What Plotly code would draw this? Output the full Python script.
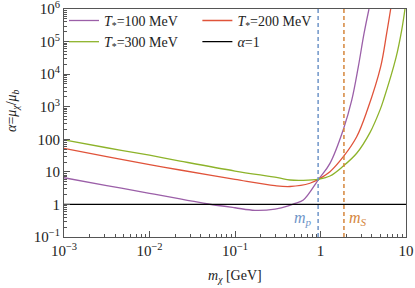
import plotly.graph_objects as go

# Data (x = m_chi in GeV, y = alpha)
x_t100 = [0.001, 0.00316, 0.01, 0.0228, 0.0316, 0.0488, 0.1, 0.171, 0.294, 0.42, 0.504, 0.63, 0.955, 1.29, 1.85, 2.32, 2.77, 3.23, 3.69]
y_t100 = [6.6, 3.8, 2.19, 1.47, 1.26, 1.03, 0.79, 0.66, 0.72, 0.90, 1.08, 1.37, 6.0, 18.2, 200, 1585, 17000, 178000, 1.0e6]

x_t200 = [0.001, 0.00316, 0.01, 0.0228, 0.1, 0.294, 0.44, 0.753, 0.955, 1.29, 1.85, 2.65, 3.53, 5.06, 5.94, 6.62]
y_t200 = [52.5, 29.5, 16.6, 11.4, 5.89, 3.76, 3.55, 4.47, 6.0, 10.1, 29.2, 120, 794, 17000, 178000, 1.0e6]

x_t300 = [0.001, 0.00316, 0.01, 0.0228, 0.1, 0.316, 0.44, 0.631, 0.955, 1.29, 1.85, 2.65, 3.79, 4.97, 5.43, 7.64, 8.91, 9.73]
y_t300 = [95.5, 55, 32.4, 21.5, 10.6, 6.6, 5.62, 5.5, 6.0, 7.46, 15.1, 37.2, 160, 800, 1550, 32000, 224000, 1.0e6]

x_range = [0.001, 10]
alpha_one = [1, 1]

m_p = 0.938
m_S = 1.88
v_range = [0.1, 1.0e6]

x_tickvals = [0.001, 0.01, 0.1, 1, 10]
x_ticktext = ["10<sup>\u22123</sup>", "10<sup>\u22122</sup>", "10<sup>\u22121</sup>", "1", "10"]
y_tickvals = [0.1, 1, 10, 100, 1e3, 1e4, 1e5, 1e6]
y_ticktext = ["10<sup>\u22121</sup>", "1", "10", "100", "10<sup>3</sup>", "10<sup>4</sup>", "10<sup>5</sup>", "10<sup>6</sup>"]

FONT = "Liberation Serif"
C_PURPLE = "#9b5fa8"
C_RED = "#e0533a"
C_GREEN = "#8db32a"
C_BLUE = "#6f95c8"
C_ORANGE = "#d5863c"

fig = go.Figure()
fig.add_trace(go.Scatter(x=x_t100, y=y_t100, mode="lines", line=dict(color=C_PURPLE, width=1.3, shape="spline"),
                         name="<i>T</i><sub>*</sub>=100 MeV", legend="legend"))
fig.add_trace(go.Scatter(x=x_t200, y=y_t200, mode="lines", line=dict(color=C_RED, width=1.3, shape="spline"),
                         name="<i>T</i><sub>*</sub>=200 MeV", legend="legend2"))
fig.add_trace(go.Scatter(x=x_t300, y=y_t300, mode="lines", line=dict(color=C_GREEN, width=1.3, shape="spline"),
                         name="<i>T</i><sub>*</sub>=300 MeV", legend="legend"))
fig.add_trace(go.Scatter(x=x_range, y=alpha_one, mode="lines", line=dict(color="black", width=1.3),
                         name="<i>\u03b1</i>=1", legend="legend2"))
fig.add_trace(go.Scatter(x=[m_p, m_p], y=v_range, mode="lines", line=dict(color=C_BLUE, width=1.5, dash="4px,3px"),
                         showlegend=False))
fig.add_trace(go.Scatter(x=[m_S, m_S], y=v_range, mode="lines", line=dict(color=C_ORANGE, width=1.5, dash="4px,3px"),
                         showlegend=False))

# label positions (log10 units on log axes)
fig.add_annotation(x=-0.205, y=-0.42, xref="x", yref="y", text="<i>m<sub>p</sub></i>", showarrow=False,
                   font=dict(family=FONT, size=16, color=C_BLUE), xanchor="center", yanchor="middle")
fig.add_annotation(x=0.44, y=-0.42, xref="x", yref="y", text="<i>m<sub>S</sub></i>", showarrow=False,
                   font=dict(family=FONT, size=16, color=C_ORANGE), xanchor="center", yanchor="middle")

fig.add_annotation(x=-0.149, y=0.553, xref="paper", yref="paper", textangle=-90, showarrow=False,
                   text="<i>\u03b1</i>=<i>\u03bc<sub>\u03c7</sub></i>/<i>\u03bc<sub>b</sub></i>",
                   font=dict(family=FONT, size=14, color="#222"), xanchor="center", yanchor="middle")
fig.add_annotation(x=0.5, y=-0.172, xref="paper", yref="paper", showarrow=False,
                   text="<i>m<sub>\u03c7</sub></i> [GeV]",
                   font=dict(family=FONT, size=14, color="#222"), xanchor="center", yanchor="middle")

axis_common = dict(showgrid=False, zeroline=False, showline=True, linecolor="#555", linewidth=1,
                   mirror=True, ticks="inside", ticklen=6, tickcolor="#555", tickwidth=1,
                   automargin=False, ticklabeloverflow="allow",
                   tickfont=dict(family=FONT, size=15, color="#222"))

fig.update_xaxes(type="log", range=[-3, 1], tickvals=x_tickvals, ticktext=x_ticktext,
                 minor=dict(ticks="inside", ticklen=3, tickcolor="#555", dtick="D1"),
                 **axis_common)
fig.update_yaxes(type="log", range=[-1, 6], tickvals=y_tickvals, ticktext=y_ticktext,
                 minor=dict(ticks="inside", ticklen=3, tickcolor="#555", dtick="D1"),
                 **axis_common)

legend_common = dict(bgcolor="rgba(0,0,0,0)", font=dict(family=FONT, size=14, color="#222"),
                     yref="container", yanchor="top", y=0.983, tracegroupgap=0, itemwidth=30)
fig.update_layout(
    width=415, height=288,
    margin=dict(l=64, r=9, t=9, b=51, autoexpand=False),
    paper_bgcolor="white", plot_bgcolor="white",
    showlegend=True,
    legend=dict(x=0.0, xanchor="left", **legend_common),
    legend2=dict(x=0.39, xanchor="left", **legend_common),
)

fig.write_html("out.html", config={"displayModeBar": False},
               post_script="document.body.style.margin='0px';")
